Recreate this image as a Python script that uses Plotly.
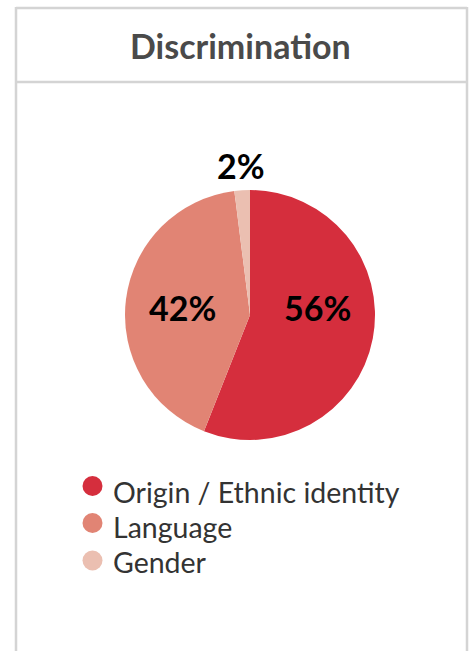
import plotly.graph_objects as go

# Data
categories = ["Origin / Ethnic identity", "Language", "Gender"]
shares = [56, 42, 2]
colors = ["#D52E3D", "#E18474", "#EBBFB1"]
title_text = "Discrimination"

W, H = 472, 651


def px_x(x):
    return x / W


def px_y(y):
    return 1 - y / H


# Pie geometry (pixels)
cx, cy, R = 250, 315, 125

fig = go.Figure()
fig.add_trace(go.Pie(
    labels=categories,
    values=shares,
    marker=dict(colors=colors, line=dict(width=0)),
    sort=False,
    direction="clockwise",
    rotation=0,
    textinfo="none",
    hoverinfo="label+percent",
    showlegend=False,
    domain=dict(x=[px_x(cx - R), px_x(cx + R)], y=[px_y(cy + R), px_y(cy - R)]),
))

annotations = []
shapes = []

# Percentage labels (layout positions in pixels, text from the values)
label_pos = [(317.5, 307), (182, 307), (241, 165)]
for v, (lx, ly) in zip(shares, label_pos):
    annotations.append(dict(
        x=px_x(lx), y=px_y(ly), xref="paper", yref="paper",
        text=f"{v}%", showarrow=False, xanchor="center", yanchor="middle",
        font=dict(family="Lato", size=34, color="#000000", weight="bold"),
    ))

# Title
annotations.append(dict(
    x=px_x(240.5), y=px_y(46), xref="paper", yref="paper", text=title_text,
    showarrow=False, xanchor="center", yanchor="middle",
    font=dict(family="Lato", size=34, color="#4a4a4a", weight="bold"),
))

# Panel frame: top edge, header separator, side edges
frame_col = "#d4d4d4"
shapes.append(dict(type="line", xref="paper", yref="paper",
                   x0=px_x(16), x1=px_x(467), y0=px_y(8), y1=px_y(8),
                   line=dict(color=frame_col, width=2.5)))
shapes.append(dict(type="line", xref="paper", yref="paper",
                   x0=px_x(16), x1=px_x(467), y0=px_y(82), y1=px_y(82),
                   line=dict(color=frame_col, width=2.5)))
for xv in (16, 467):
    shapes.append(dict(type="line", xref="paper", yref="paper",
                       x0=px_x(xv), x1=px_x(xv), y0=px_y(7), y1=0,
                       line=dict(color=frame_col, width=2.5)))

# Legend with round markers
marker_y = [486, 523, 560.5]
text_y = [492, 527, 562]
for name, col, my, ty in zip(categories, colors, marker_y, text_y):
    shapes.append(dict(type="circle", xref="paper", yref="paper",
                       x0=px_x(82.5), x1=px_x(102.5), y0=px_y(my + 10), y1=px_y(my - 10),
                       fillcolor=col, line=dict(width=0)))
    annotations.append(dict(
        x=px_x(111), y=px_y(ty), xref="paper", yref="paper", text=name,
        showarrow=False, xanchor="left", yanchor="middle",
        font=dict(family="Lato", size=28.5, color="#333333"),
    ))

fig.update_layout(
    width=W, height=H,
    margin=dict(l=0, r=0, t=0, b=0),
    paper_bgcolor="#ffffff",
    plot_bgcolor="#ffffff",
    annotations=annotations,
    shapes=shapes,
    showlegend=False,
)

fig.write_html("out.html")
